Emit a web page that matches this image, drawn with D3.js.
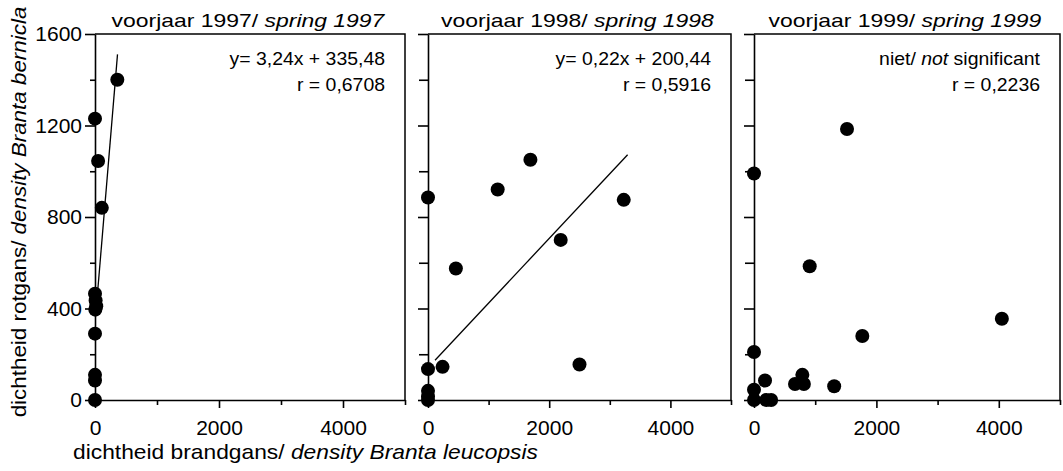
<!DOCTYPE html>
<html>
<head>
<meta charset="utf-8">
<script src="https://cdn.jsdelivr.net/npm/d3@7"></script>
<style>
	body { margin: 0; background: #fff; }
	svg { display: block; font-family: "Liberation Sans", Arial, sans-serif; }
	text { white-space: pre; }
</style>
</head>
<body>
<svg id="chart"></svg>
<script>
// data
const years = ['1997', '1998', '1999'];

const x1997 = [360, 0, 50, 110, 0, 10, 20, 5, 0, 0, 0, 0];
const y1997 = [1400, 1230, 1045, 840, 465, 435, 410, 395, 290, 110, 85, 0];

const x1998 = [0, 1150, 1690, 3230, 2190, 460, 240, 0, 2500, 0, 0, 0];
const y1998 = [885, 920, 1050, 875, 700, 575, 145, 135, 155, 40, 15, 0];

const x1999 = [1520, 0, 910, 4050, 1770, 0, 790, 180, 670, 815, 1310, 0, 0, 200, 280];
const y1999 = [1185, 990, 585, 355, 280, 210, 110, 85, 70, 70, 60, 45, 0, 0, 0];

// regression lines as drawn (end points)
const lineX1997 = [10, 363];
const lineY1997 = [368, 1511];
const lineX1998 = [116, 3294];
const lineY1998 = [174, 1072];

const eqText = ['y= 3,24x + 335,48', 'y= 0,22x + 200,44', null];
const rText = ['r = 0,6708', 'r = 0,5916', 'r = 0,2236'];

const yTicks = [0, 400, 800, 1200, 1600];
const yMinor = [200, 600, 1000, 1400];
const xTicks = [0, 2000, 4000];
const xMinor = [1000, 3000, 5000];

function addText(parent, x, y, parts, opts) {
	let g = parent.append('g');
	let t = g.append('text')
		.attr('text-anchor', opts.anchor || 'start')
		.style('font-size', opts.size + 'px');
	parts.forEach(p => {
		t.append('tspan')
			.text(p[0])
			.style('font-style', p[1] ? 'italic' : 'normal');
	});
	let s = opts.width ? opts.width / t.node().getComputedTextLength() : (opts.scale || 1);
	g.attr('transform', `translate(${x},${y})` + (opts.rotate ? ` rotate(${opts.rotate})` : '') + ` scale(${s},1)`);
	return g;
}

function makeChart() {
	let w = 1063;
	let h = 471;

	let chart = d3.select('#chart')
		.attr('width', w)
		.attr('height', h);

	let y = d3.scaleLinear().domain([0, 1600]).range([400, 34]);

	let ranges = [[95, 405], [428, 731], [754, 1060]];
	let xs = [x1997, x1998, x1999];
	let ys = [y1997, y1998, y1999];
	let lx = [lineX1997, lineX1998, null];
	let ly = [lineY1997, lineY1998, null];

	years.forEach((yr, i) => {
		let x = d3.scaleLinear().domain([0, 5000]).range(ranges[i]);
		let g = chart.append('g');

		// box: top and right border
		g.append('path')
			.attr('d', `M${x(0)},${y(1600)}H${x(5000)}V${y(0)}`)
			.attr('fill', 'none')
			.attr('stroke', '#000')
			.attr('stroke-width', 1.5);

		// y axis
		g.append('g')
			.attr('transform', `translate(${x(0)},0)`)
			.call(d3.axisLeft(y).tickValues(yTicks).tickSize(10).tickSizeOuter(0).tickPadding(3)
				.tickFormat(i == 0 ? d3.format('d') : ''));
		g.append('g')
			.attr('transform', `translate(${x(0)},0)`)
			.call(d3.axisLeft(y).tickValues(yMinor).tickSize(i == 0 ? 5 : 9).tickFormat(''))
			.select('.domain').remove();

		// x axis
		g.append('g')
			.attr('transform', `translate(0,${y(0)})`)
			.call(d3.axisBottom(x).tickValues(xTicks).tickSize(8).tickSizeOuter(0).tickPadding(12)
				.tickFormat(d3.format('d')));
		g.append('g')
			.attr('transform', `translate(0,${y(0)})`)
			.call(d3.axisBottom(x).tickValues(xMinor).tickSize(5).tickFormat(''))
			.select('.domain').remove();

		g.selectAll('.domain, .tick line').attr('stroke-width', 1.6);
		g.selectAll('.tick text')
			.style('font-size', '21px')
			.style('font-family', '"Liberation Sans", Arial, sans-serif')
			.attr('fill', '#000');

		// regression line
		if (lx[i]) {
			g.append('line')
				.attr('x1', x(lx[i][0]))
				.attr('y1', y(ly[i][0]))
				.attr('x2', x(lx[i][1]))
				.attr('y2', y(ly[i][1]))
				.attr('stroke', '#000')
				.attr('stroke-width', 1.3);
		}

		// points
		g.selectAll('circle')
			.data(xs[i].map((v, k) => [v, ys[i][k]]))
			.enter()
			.append('circle')
			.attr('cx', d => x(d[0]))
			.attr('cy', d => y(d[1]))
			.attr('r', 7)
			.attr('fill', '#000');

		// panel title
		addText(g, (ranges[i][0] + ranges[i][1]) / 2 - 2, 27,
			[['voorjaar ' + yr + '/ ', false], ['spring ' + yr, true]],
			{ size: 19, anchor: 'middle', width: 273 });

		// statistics
		let right = ranges[i][1] - 20;
		if (eqText[i]) {
			addText(g, right, 65, [[eqText[i], false]], { size: 18, anchor: 'end', scale: 1.08 });
		} else {
			addText(g, right, 65, [['niet/ ', false], ['not', true], [' significant', false]],
				{ size: 18, anchor: 'end', scale: 1.08 });
		}
		addText(g, right, 91, [[rText[i], false]], { size: 18, anchor: 'end', scale: 1.08 });
	});

	// axis titles
	addText(chart, 73, 459,
		[['dichtheid brandgans/ ', false], ['density Branta leucopsis', true]],
		{ size: 20, anchor: 'start', width: 465 });
	addText(chart, 26, 212,
		[['dichtheid rotgans/ ', false], ['density Branta bernicla', true]],
		{ size: 20, anchor: 'middle', width: 411, rotate: -90 });
}

window.onload = function () {
	makeChart();
}
</script>
</body>
</html>
